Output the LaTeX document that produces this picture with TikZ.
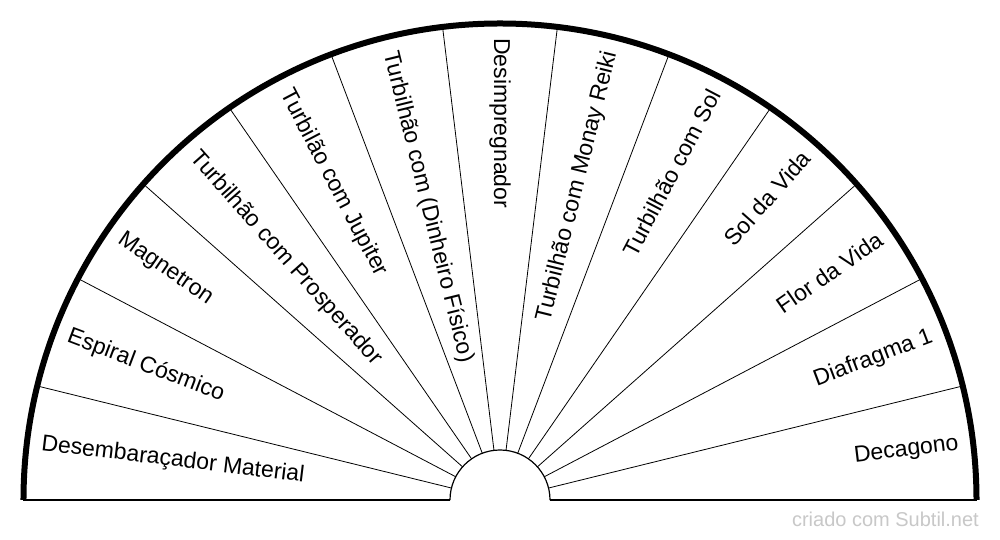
\documentclass[tikz,border=0pt]{standalone}
\usepackage{fontspec}
\setmainfont{Liberation Sans}
\usepackage{xcolor}
\usetikzlibrary{positioning, calc}
\definecolor{baseline}{HTML}{808080}
\definecolor{marca}{HTML}{C8C8C8}

\tikzset{
  rotulo/.style={inner sep=0pt, font=\fontsize{23}{26}\selectfont},
}

\begin{document}
\begin{tikzpicture}[x=1pt,y=1pt]
    \useasboundingbox (-500,-40) rectangle (500,500);
    \fill[white] (-500,-40) rectangle (500,500);

    % base
    \coordinate (bl) at (-476.5,0);
    \coordinate (il) at (-50,0);
    \coordinate (ir) at (50,0);
    \coordinate (br) at (476.5,0);
    \draw[baseline,line width=1.2pt] (bl) -- (il);
    \draw[baseline,line width=1.2pt] (ir) -- (br);

    % divisoes
    \foreach \k in {1,...,12}
      \draw[line width=0.8pt] ({\k*180/13}:50) -- ({\k*180/13}:476.5);

    \draw[line width=1.2pt] (ir) arc (0:180:50);
    \draw[line width=6pt] (br) arc (0:180:476.5);

    % rotulos esquerda
    \foreach \t [count=\i from 0] in {Desembaraçador Material, Espiral Cósmico,
        Magnetron, Turbilhão com Prosperador, Turbilão com Jupiter,
        Turbilhão com (Dinheiro Físico), Desimpregnador}
      \node[rotulo,anchor=west,rotate={180-(\i+0.5)*180/13-180}]
        (esq\i) at ({180-(\i+0.5)*180/13}:462) {\t};

    % rotulos direita
    \foreach \t [count=\i from 7] in {Turbilhão com Monay Reiki, Turbilhão com Sol,
        Sol da Vida, Flor da Vida, Diafragma 1, Decagono}
      \node[rotulo,anchor=east,rotate={180-(\i+0.5)*180/13}]
        (dir\i) at ({180-(\i+0.5)*180/13}:462) {\t};

    \node[anchor=base east,inner sep=0pt,text=marca,
      font=\fontsize{20}{22}\selectfont] (marca) at (479,-27)
      {criado com Subtil.net};
\end{tikzpicture}
\end{document}
